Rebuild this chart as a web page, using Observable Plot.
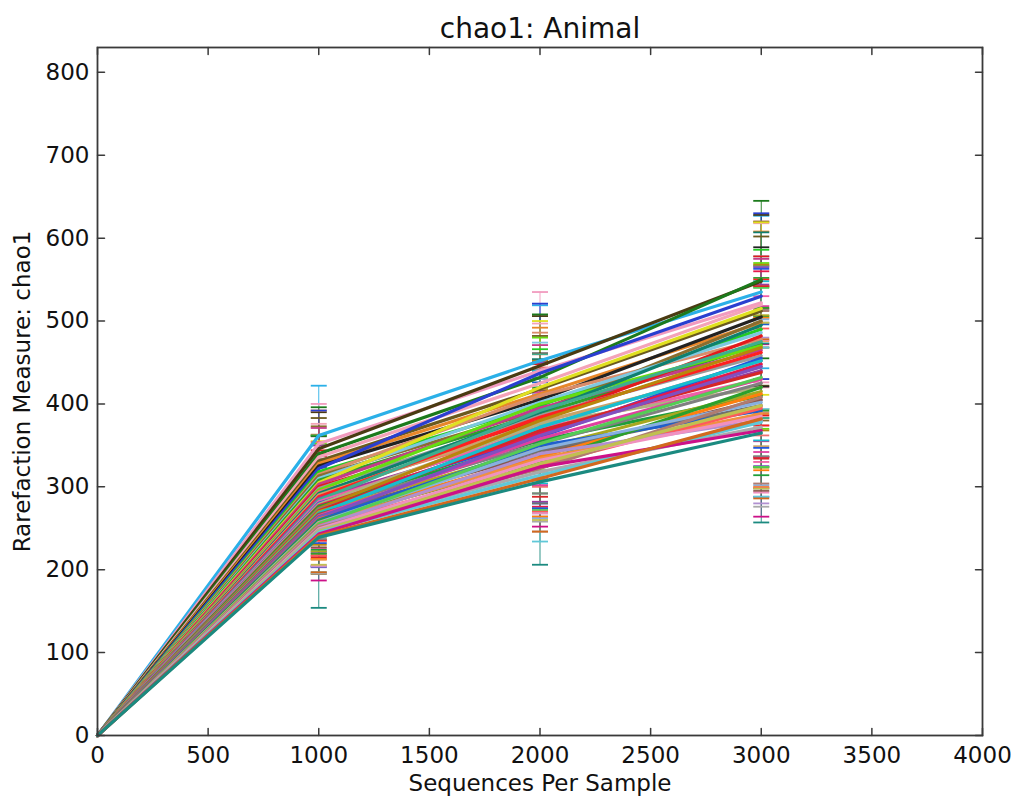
<!DOCTYPE html>
<html>
<head>
<meta charset="utf-8">
<script src="https://cdn.jsdelivr.net/npm/d3@7"></script>
<script src="https://cdn.jsdelivr.net/npm/@observablehq/plot@0.6"></script>
<style>
  html, body { margin: 0; padding: 0; background: #fff; }
  #chart svg { display: block; }
</style>
</head>
<body>
<div id="chart"></div>
<script>
// ---- Data ----
const depths = [0, 1000, 2000, 3000];
const xTicks = [0, 500, 1000, 1500, 2000, 2500, 3000, 3500, 4000];
const yTicks = [0, 100, 200, 300, 400, 500, 600, 700, 800];

const mean1000 = [362,352,346,340,336,331,328,325,322,318,315,313,310,308,305,303,300,298,296,294,292,290,288,286,284,282,280,279,277,276,274,273,271,270,268,267,265,264,263,261,260,259,257,256,255,253,252,251,249,248,246,245,243,241,239];
const mean2000 = [452,440,446,432,425,418,412,405,437,398,410,392,402,388,420,395,380,386,400,372,390,378,384,366,392,370,360,376,364,356,380,352,368,346,372,340,358,344,362,336,350,330,346,334,352,326,340,322,332,318,328,314,324,310,306];
const mean3000 = [535,522,548,550,520,512,498,505,530,490,478,500,486,472,515,465,482,458,470,452,495,445,462,440,475,430,455,420,448,410,468,425,438,415,452,405,430,398,445,412,392,420,402,388,432,395,380,408,385,372,398,378,368,382,365];

const sd1000 = [60,48,44,56,40,52,64,36,70,44,48,60,40,54,50,68,44,36,56,60,48,40,52,64,44,56,48,40,60,52,44,36,56,48,64,40,52,44,60,48,56,40,52,44,60,36,48,56,44,52,40,48,56,44,85];
const sd2000 = [67,95,60,76,72,64,80,56,84,68,76,60,72,64,80,76,68,56,80,72,64,60,76,84,68,60,80,64,88,64,72,60,80,72,68,76,56,64,88,72,76,60,84,64,80,56,72,76,64,60,68,80,72,64,100];
const sd3000 = [92,96,80,95,100,90,110,84,100,96,88,120,92,80,104,110,96,84,100,90,112,96,88,104,92,100,108,84,112,96,100,88,104,92,96,110,88,100,120,92,104,96,100,88,108,96,100,104,92,96,100,90,104,96,108];

const palette = ["#2bb0e8","#f29bbf","#4a3b12","#1c7a1c","#f4a3b8","#6b5a1e","#e8872a","#222222","#2a3fd0","#22cc22",
  "#d98c6a","#8a6d2f","#7ec8e0","#2da02d","#e0e020","#c43c8a","#e31a1c","#999999","#66dd11","#f07070",
  "#0f7f6f","#c9a36b","#ff2020","#9a3c9a","#3fae8f","#f060a8","#2255dd","#b0b080","#e6194b","#1e9e3a",
  "#b8860b","#808080","#d62728","#a8a820","#17becf","#8c564b","#e040a0","#6f6f6f","#8050c0","#ff7f0e",
  "#1f5fcc","#2ca02c","#88b0e0","#f09040","#55cc55","#ff5a5a","#b090d0","#b07c70","#f090c0","#aaaaaa",
  "#c0c050","#60c8d8","#cc1188","#d2691e","#1b8a80"];

// ---- Build tables for the library ----
const means = [mean1000, mean2000, mean3000];
const sds = [sd1000, sd2000, sd3000];
const linePts = [];
const bars = [];
const caps = [];
for (let i = 0; i < mean1000.length; i++) {
  const color = palette[i % palette.length];
  linePts.push({s: i, x: depths[0], y: 0, color});
  for (let k = 0; k < 3; k++) {
    const x = depths[k + 1], m = means[k][i], sd = sds[k][i];
    linePts.push({s: i, x, y: m, color});
    bars.push({x, lo: m - sd, hi: m + sd, color});
    caps.push({x, y: m - sd, color});
    caps.push({x, y: m + sd, color});
  }
}

const capSymbol = {
  draw(context, size) {
    const w = Math.sqrt(size / Math.PI);
    context.moveTo(-w, 0);
    context.lineTo(w, 0);
  }
};
const tickShape = {
  draw(context, l) {
    context.moveTo(0, 0);
    context.lineTo(0, -l);
  }
};

const axisColor = "#3a3a3a";
const chart = Plot.plot({
  width: 1020,
  height: 801,
  marginLeft: 97,
  marginRight: 38,
  marginTop: 47,
  marginBottom: 66,
  style: {fontFamily: "DejaVu Sans, sans-serif", fontSize: "23px", color: "#111", background: "#fff"},
  x: {domain: [0, 4000]},
  y: {domain: [0, 830]},
  marks: [
    Plot.ruleX(bars, {x: "x", y1: "lo", y2: "hi", stroke: "color", strokeWidth: 1, strokeOpacity: 0.9}),
    Plot.dot(caps, {x: "x", y: "y", symbol: capSymbol, r: 8, fill: "none", stroke: "color", strokeWidth: 1.8}),
    Plot.line(linePts, {x: "x", y: "y", z: "s", stroke: "color", strokeWidth: 3.2, curve: "linear"}),
    Plot.frame({stroke: axisColor, strokeWidth: 1.8}),
    Plot.vector(xTicks, {x: d => d, frameAnchor: "bottom", length: 7, rotate: 0, anchor: "start", shape: tickShape, stroke: axisColor, strokeWidth: 1.5}),
    Plot.vector(xTicks, {x: d => d, frameAnchor: "top", length: 7, rotate: 180, anchor: "start", shape: tickShape, stroke: axisColor, strokeWidth: 1.5}),
    Plot.vector(yTicks, {y: d => d, frameAnchor: "left", length: 7, rotate: 90, anchor: "start", shape: tickShape, stroke: axisColor, strokeWidth: 1.5}),
    Plot.vector(yTicks, {y: d => d, frameAnchor: "right", length: 7, rotate: -90, anchor: "start", shape: tickShape, stroke: axisColor, strokeWidth: 1.5}),
    Plot.axisX({ticks: xTicks, tickSize: 0, tickPadding: 11, label: null, tickFormat: d => String(d), fontSize: 23}),
    Plot.axisY({ticks: yTicks, tickSize: 0, tickPadding: 8, label: null, tickFormat: d => String(d), fontSize: 23}),
    Plot.text(["Sequences Per Sample"], {frameAnchor: "bottom", lineAnchor: "middle", textAnchor: "middle", dy: 48, text: d => d, fontSize: 23}),
    Plot.text(["Rarefaction Measure: chao1"], {frameAnchor: "left", lineAnchor: "middle", textAnchor: "middle", dx: -75, rotate: -90, text: d => d, fontSize: 23}),
    Plot.text(["chao1: Animal"], {frameAnchor: "top", lineAnchor: "middle", textAnchor: "middle", dy: -18, text: d => d, fontSize: 28})
  ]
});
document.getElementById("chart").appendChild(chart);
</script>
</body>
</html>
